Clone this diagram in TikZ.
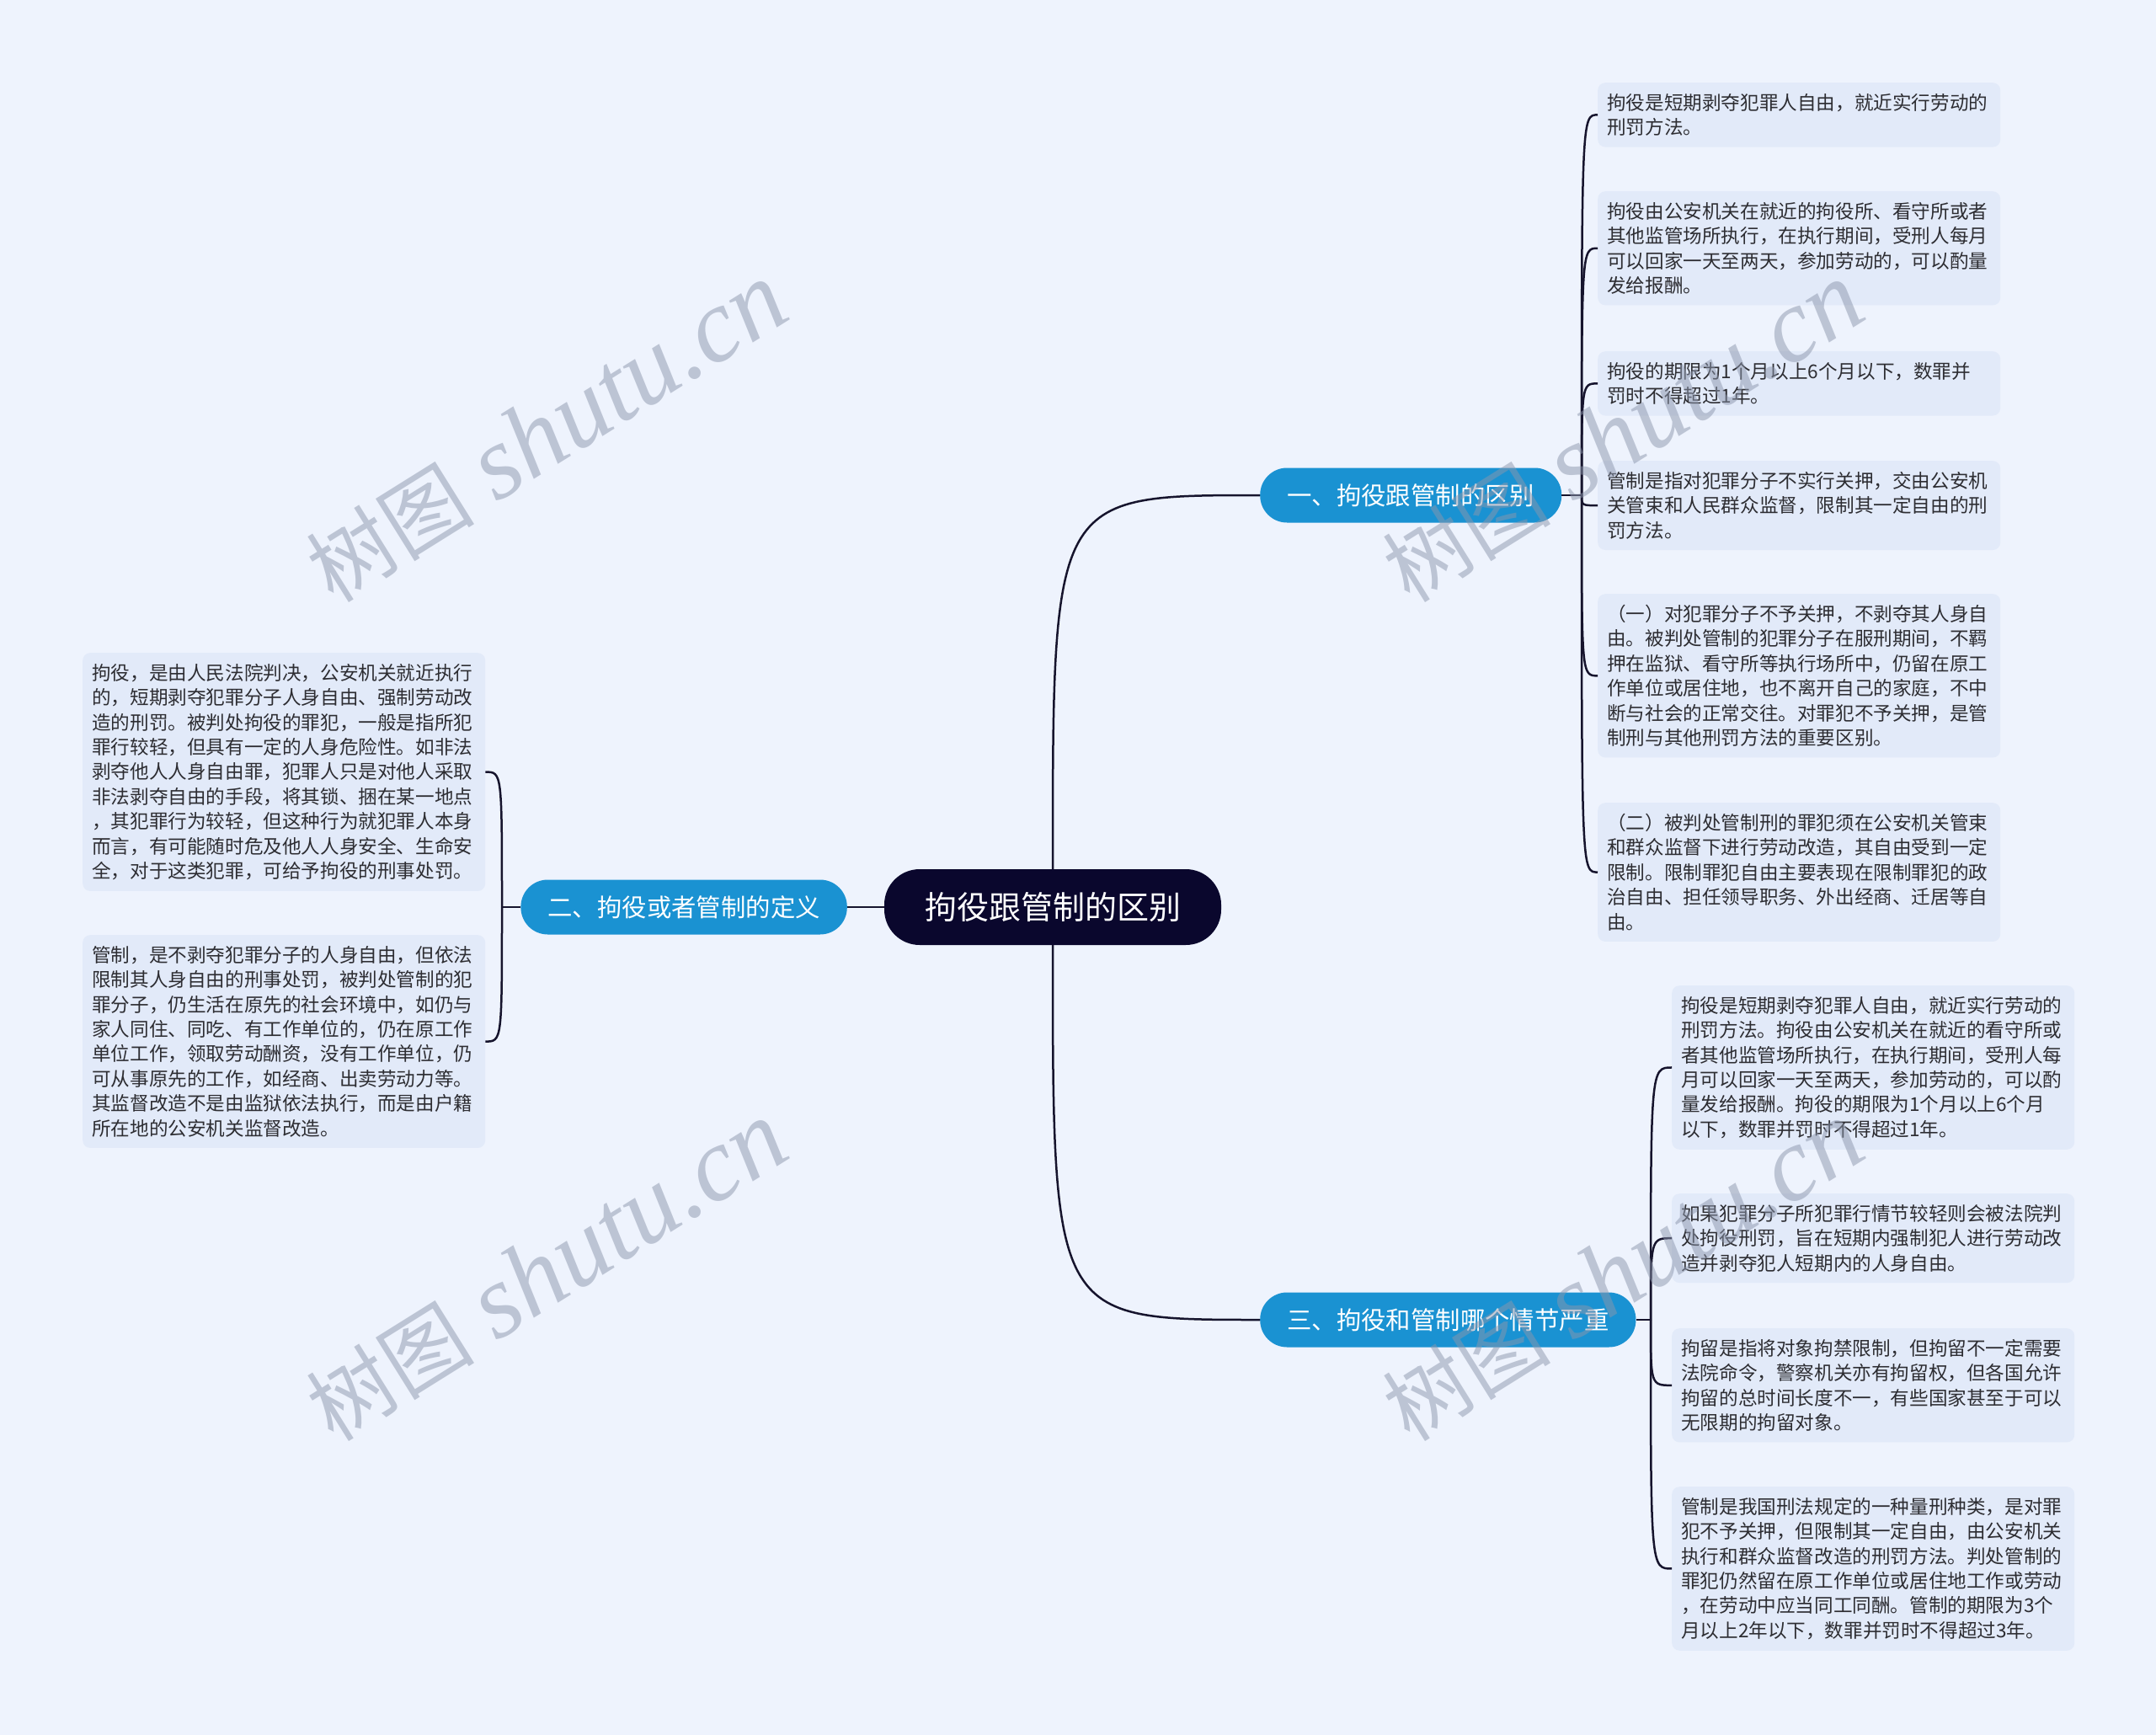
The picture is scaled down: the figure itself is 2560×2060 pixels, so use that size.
\documentclass[tikz,border=0pt]{standalone}
\usepackage{fontspec}
\setmainfont{Noto Sans CJK SC}
\newfontfamily\wmserif{Liberation Serif}
\usetikzlibrary{calc}
\definecolor{pagebg}{RGB}{238,243,253}
\definecolor{leafbg}{RGB}{226,234,249}
\definecolor{leaftext}{RGB}{45,45,50}
\definecolor{topicblue}{RGB}{26,146,210}
\definecolor{mainnavy}{RGB}{10,7,45}
\definecolor{linkdark}{RGB}{22,20,45}
\definecolor{wmgray}{RGB}{140,150,172}
\newcommand{\wmtext}{{\fontsize{100}{100}\selectfont 树图}\hspace{28pt}{\wmserif\itshape\fontsize{124}{124}\selectfont shutu.cn}}% watermark line
\tikzset{
  leafbox/.style={fill=leafbg, rounded corners=9pt, anchor=north west,
    text width=456pt, align=left, inner xsep=11pt, inner ysep=13pt,
    text=leaftext, font=\fontsize{22.6}{29.4}\selectfont},
  topicbox/.style={fill=topicblue, text=white, rounded corners=32pt,
    minimum height=65pt, inner xsep=32pt, font=\fontsize{29.4}{30}\selectfont},
  mainbox/.style={fill=mainnavy, text=white, rounded corners=42pt,
    minimum width=400pt, minimum height=90pt, font=\fontsize{38}{40}\selectfont},
  linkline/.style={draw=linkdark, line width=2.5pt},
  wmark/.style={text=wmgray, text opacity=0.5, rotate=32},
}

\begin{document}
\begin{tikzpicture}[x=1pt,y=-1pt]
  \fill[pagebg] (0,0) rectangle (2560,2060);
  \useasboundingbox (0,0) rectangle (2560,2060);

  % centre and the three topics
  \node[mainbox] (main) at (1250,1077) {拘役跟管制的区别};
  \node[topicbox, anchor=west] (t1) at (1496,588) {一、拘役跟管制的区别};
  \node[topicbox, anchor=east] (t2) at (1006,1077) {二、拘役或者管制的定义};
  \node[topicbox, anchor=west] (t3) at (1496,1567) {三、拘役和管制哪个情节严重};
  \coordinate (j1) at (1878,588);
  \coordinate (j2) at (596,1077);
  \coordinate (j3) at (1960,1567);

  % notes of topic one
  \node[leafbox] (a1) at (1897,98) {拘役是短期剥夺犯罪人自由，就近实行劳动的\\刑罚方法。};
  \node[leafbox] (a2) at (1897,227) {拘役由公安机关在就近的拘役所、看守所或者\\其他监管场所执行，在执行期间，受刑人每月\\可以回家一天至两天，参加劳动的，可以酌量\\发给报酬。};
  \node[leafbox] (a3) at (1897,417) {拘役的期限为1个月以上6个月以下，数罪并\\罚时不得超过1年。};
  \node[leafbox] (a4) at (1897,547) {管制是指对犯罪分子不实行关押，交由公安机\\关管束和人民群众监督，限制其一定自由的刑\\罚方法。};
  \node[leafbox] (a5) at (1897,705) {（一）对犯罪分子不予关押，不剥夺其人身自\\由。被判处管制的犯罪分子在服刑期间，不羁\\押在监狱、看守所等执行场所中，仍留在原工\\作单位或居住地，也不离开自己的家庭，不中\\断与社会的正常交往。对罪犯不予关押，是管\\制刑与其他刑罚方法的重要区别。};
  \node[leafbox] (a6) at (1897,953) {（二）被判处管制刑的罪犯须在公安机关管束\\和群众监督下进行劳动改造，其自由受到一定\\限制。限制罪犯自由主要表现在限制罪犯的政\\治自由、担任领导职务、外出经商、迁居等自\\由。};

  % notes of topic two
  \node[leafbox] (b1) at (98,775) {拘役，是由人民法院判决，公安机关就近执行\\的，短期剥夺犯罪分子人身自由、强制劳动改\\造的刑罚。被判处拘役的罪犯，一般是指所犯\\罪行较轻，但具有一定的人身危险性。如非法\\剥夺他人人身自由罪，犯罪人只是对他人采取\\非法剥夺自由的手段，将其锁、捆在某一地点\\，其犯罪行为较轻，但这种行为就犯罪人本身\\而言，有可能随时危及他人人身安全、生命安\\全，对于这类犯罪，可给予拘役的刑事处罚。};
  \node[leafbox] (b2) at (98,1110) {管制，是不剥夺犯罪分子的人身自由，但依法\\限制其人身自由的刑事处罚，被判处管制的犯\\罪分子，仍生活在原先的社会环境中，如仍与\\家人同住、同吃、有工作单位的，仍在原工作\\单位工作，领取劳动酬资，没有工作单位，仍\\可从事原先的工作，如经商、出卖劳动力等。\\其监督改造不是由监狱依法执行，而是由户籍\\所在地的公安机关监督改造。};

  % notes of topic three
  \node[leafbox] (c1) at (1985,1170) {拘役是短期剥夺犯罪人自由，就近实行劳动的\\刑罚方法。拘役由公安机关在就近的看守所或\\者其他监管场所执行，在执行期间，受刑人每\\月可以回家一天至两天，参加劳动的，可以酌\\量发给报酬。拘役的期限为1个月以上6个月\\以下，数罪并罚时不得超过1年。};
  \node[leafbox] (c2) at (1985,1417) {如果犯罪分子所犯罪行情节较轻则会被法院判\\处拘役刑罚，旨在短期内强制犯人进行劳动改\\造并剥夺犯人短期内的人身自由。};
  \node[leafbox] (c3) at (1985,1577) {拘留是指将对象拘禁限制，但拘留不一定需要\\法院命令，警察机关亦有拘留权，但各国允许\\拘留的总时间长度不一，有些国家甚至于可以\\无限期的拘留对象。};
  \node[leafbox] (c4) at (1985,1765) {管制是我国刑法规定的一种量刑种类，是对罪\\犯不予关押，但限制其一定自由，由公安机关\\执行和群众监督改造的刑罚方法。判处管制的\\罪犯仍然留在原工作单位或居住地工作或劳动\\，在劳动中应当同工同酬。管制的期限为3个\\月以上2年以下，数罪并罚时不得超过3年。};

  % connectors
  \draw[linkline] (main.north) .. controls (main.north |- t1.west) .. (t1.west);
  \draw[linkline] (main.south) .. controls (main.south |- t3.west) .. (t3.west);
  \draw[linkline] (main.west) -- (t2.east);
  \draw[linkline] (t1.east) -- (j1);
  \draw[linkline] (t2.west) -- (j2);
  \draw[linkline] (t3.east) -- (j3);
  \foreach \n in {a1,a2,a3,a4,a5,a6}
    \draw[linkline] (j1) .. controls (j1 |- \n.west) .. (\n.west);
  \foreach \n in {b1,b2}
    \draw[linkline] (j2) .. controls (j2 |- \n.east) .. (\n.east);
  \foreach \n in {c1,c2,c3,c4}
    \draw[linkline] (j3) .. controls (j3 |- \n.west) .. (\n.west);

  % watermarks
  \node[wmark] (wm1) at (649,514) {\wmtext};
  \node[wmark] (wm2) at (649,1510) {\wmtext};
  \node[wmark] (wm3) at (1927,514) {\wmtext};
  \node[wmark] (wm4) at (1927,1510) {\wmtext};
\end{tikzpicture}
\end{document}
